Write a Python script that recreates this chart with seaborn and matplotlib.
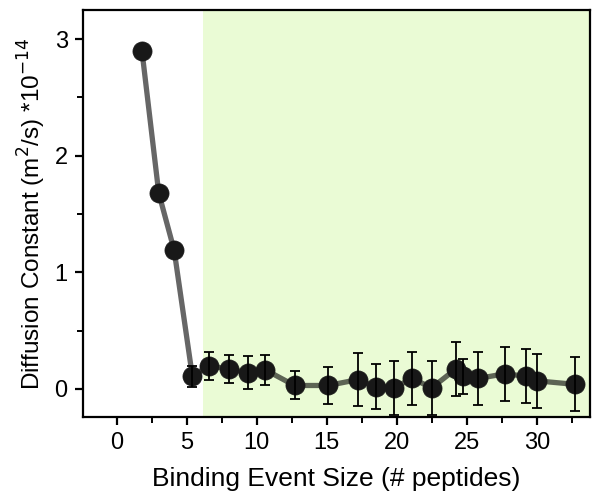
import matplotlib
matplotlib.use("Agg")
import matplotlib.pyplot as plt
from matplotlib.ticker import MultipleLocator
import seaborn as sns
import pandas as pd
import numpy as np

# ==================== Data ====================
event_size = [1.8, 3.0, 4.1, 5.4, 6.6, 8.0, 9.4, 10.6, 12.7, 15.1, 17.2, 18.5,
              19.8, 21.1, 22.5, 24.2, 24.7, 25.8, 27.7, 29.2, 30.0, 32.7]
diff_const = [2.90, 1.68, 1.19, 0.11, 0.20, 0.17, 0.14, 0.165, 0.03, 0.03, 0.08, 0.02,
              0.01, 0.09, 0.01, 0.17, 0.11, 0.09, 0.13, 0.11, 0.07, 0.04]
diff_err = [0, 0, 0, 0.09, 0.12, 0.12, 0.14, 0.13, 0.12, 0.16, 0.23, 0.19,
            0.23, 0.23, 0.23, 0.23, 0.15, 0.23, 0.23, 0.23, 0.23, 0.23]
shade_start = 6.16
x_ticks = [0, 5, 10, 15, 20, 25, 30]
y_ticks = [0, 1, 2, 3]

df = pd.DataFrame({'size': event_size, 'D': diff_const, 'err': diff_err})
df_err = df[df['err'] > 0]

# ==================== Style ====================
sns.set_style('ticks')
plt.rcParams['font.family'] = ['Liberation Sans', 'DejaVu Sans']
plt.rcParams.update({
    'font.size': 17,
    'axes.linewidth': 1.6,
    'xtick.major.width': 1.6, 'ytick.major.width': 1.6,
    'xtick.minor.width': 1.4, 'ytick.minor.width': 1.4,
    'xtick.major.size': 6, 'ytick.major.size': 6,
    'xtick.minor.size': 4, 'ytick.minor.size': 4,
    'xtick.direction': 'out', 'ytick.direction': 'out',
    'xtick.color': 'black', 'ytick.color': 'black',
    'xtick.labelcolor': 'black', 'ytick.labelcolor': 'black',
    'axes.edgecolor': 'black', 'axes.labelcolor': 'black', 'text.color': 'black',
})

fig = plt.figure(figsize=(5.98, 4.98), dpi=100)
ax = fig.add_axes([0.1388, 0.1627, 0.8478, 0.8173])

xlim = (-2.41, 33.8)
ax.axvspan(shade_start, xlim[1], color='#eafbd5', zorder=0, lw=0)

sns.lineplot(data=df, x='size', y='D', sort=False, color='black', alpha=0.6,
             linewidth=3.8, ax=ax, zorder=2)
ax.errorbar(df_err['size'], df_err['D'], yerr=df_err['err'], fmt='none', ecolor='black',
            elinewidth=1.3, capsize=3.5, capthick=1.3, zorder=4)
sns.scatterplot(data=df, x='size', y='D', color='#181818', s=190,
                edgecolor='#181818', linewidth=0.5, ax=ax, zorder=3)

ax.set_xlim(*xlim)
ax.set_ylim(-0.24, 3.25)
ax.set_xticks(x_ticks)
ax.set_yticks(y_ticks)
ax.xaxis.set_minor_locator(MultipleLocator(2.5))
ax.yaxis.set_minor_locator(MultipleLocator(0.5))
ax.tick_params(labelsize=17, pad=5)
ax.tick_params(which='minor', length=4)

ax.set_xlabel('Binding Event Size (# peptides)', fontsize=19, labelpad=9)
ax.set_ylabel('Diffusion Constant (m$^2$/s) *10$^{-14}$', fontsize=17.5, labelpad=5)

fig.savefig('out.png', dpi=100)
